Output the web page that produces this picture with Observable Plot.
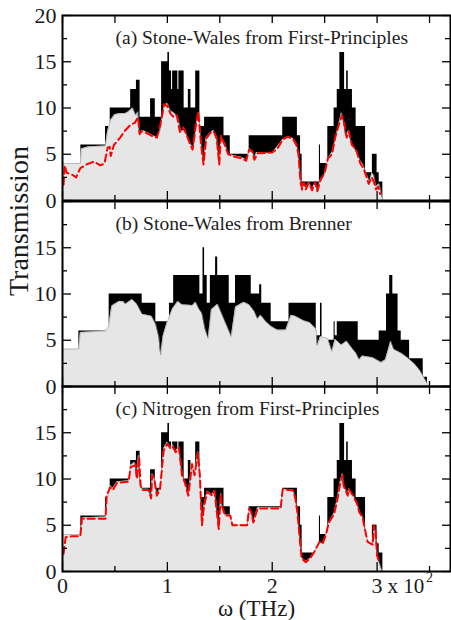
<!DOCTYPE html>
<html><head><meta charset="utf-8">
<script src="https://cdn.jsdelivr.net/npm/d3@7"></script>
<script src="https://cdn.jsdelivr.net/npm/@observablehq/plot@0.6"></script>
<style>body{margin:0;background:#fff} #chart svg{display:block}</style>
</head><body><div id="chart"></div>
<script>
// x in units of 10^2 THz
const xMajor = [0, 1, 2, 3];
const xMinor = [0.5, 1.5, 2.5, 3.5];
const yMajor = [0, 5, 10, 15, 20];
const yMinor = [2.5, 7.5, 12.5, 17.5];
const yLabelsTop = [0, 5, 10, 15, 20];
const yLabelsLower = [0, 5, 10, 15];
const titles = ["(a) Stone-Wales from First-Principles", "(b) Stone-Wales from Brenner", "(c) Nitrogen from First-Principles"];

// pristine transmission, first-principles (step function: [start, value])
const pristineFP = [[0,4],[0.175,6],[0.41,8],[0.455,10],[0.65,12],[0.705,13],[0.74,9],[0.84,11],[0.885,9],[0.945,15],[1.005,16],[1.02,14],[1.04,12],[1.05,14],[1.1,12],[1.11,14],[1.16,10],[1.2,12],[1.225,10],[1.27,14],[1.31,8],[1.355,9],[1.54,7],[1.6,5],[1.78,7],[2.1,9],[2.24,7],[2.27,5],[2.285,2],[2.45,6],[2.46,4],[2.53,8],[2.59,10],[2.62,12],[2.645,16],[2.69,12],[2.71,14],[2.725,12],[2.765,10],[2.8,8],[2.89,3],[2.955,5],[3.0,3],[3.02,2],[3.055,0],[3.7,0]];
// pristine transmission, Brenner
const pristineBR = [[0,4],[0.156,6],[0.445,10],[0.76,9],[0.89,7],[1.02,9],[1.06,12],[1.31,10],[1.34,15],[1.355,12],[1.38,9],[1.41,12],[1.46,14],[1.48,12],[1.59,9],[1.65,12],[1.8,10],[1.88,11],[1.9,9],[1.99,7],[2.16,9],[2.42,5.5],[2.46,9],[2.475,5],[2.59,7],[2.6,5.5],[2.62,7],[2.82,5],[3.02,6],[3.09,10],[3.12,12],[3.15,10],[3.2,6],[3.23,5],[3.31,3],[3.44,1],[3.48,0],[3.7,0]];

// defect transmission (grey)
const defectA = [[0,4],[0.17,4],[0.18,5.6],[0.25,5.8],[0.41,5.9],[0.43,7.5],[0.46,8.7],[0.5,9.3],[0.55,9.4],[0.6,9.4],[0.63,9.6],[0.67,10.0],[0.7,9.2],[0.72,9.6],[0.735,7.0],[0.76,7.6],[0.8,7.4],[0.85,7.1],[0.9,6.8],[0.93,7.5],[0.97,10.3],[1.0,10.5],[1.03,9.7],[1.07,9.4],[1.1,9.0],[1.13,7.5],[1.17,7.6],[1.2,6.5],[1.25,5.6],[1.28,8.5],[1.3,9.5],[1.32,6.5],[1.345,4.0],[1.37,6.8],[1.4,7.2],[1.44,7.6],[1.47,6.9],[1.495,4.0],[1.51,6.9],[1.55,6.2],[1.58,5.0],[1.65,4.8],[1.7,4.7],[1.74,4.5],[1.76,4.2],[1.78,5.6],[1.81,5.4],[1.83,4.6],[1.85,5.2],[1.95,5.1],[2.0,5.2],[2.05,5.8],[2.1,6.6],[2.15,6.9],[2.2,6.7],[2.23,6.2],[2.25,5.2],[2.27,2.5],[2.285,1.0],[2.3,2.0],[2.32,1.3],[2.35,2.0],[2.38,1.2],[2.41,2.0],[2.43,1.0],[2.46,2.3],[2.5,2.8],[2.53,4.5],[2.57,5.2],[2.6,6.5],[2.63,8.0],[2.66,9.5],[2.68,8.5],[2.7,7.0],[2.73,7.6],[2.75,6.3],[2.8,5.3],[2.84,4.3],[2.87,3.8],[2.9,2.8],[2.93,2.0],[2.95,3.0],[2.97,2.7],[2.99,1.5],[3.02,1.8],[3.05,0.3],[3.06,0],[3.7,0]];
const defectB = [[0,4.05],[0.155,4.05],[0.17,5.85],[0.41,6.0],[0.44,6.5],[0.47,8.7],[0.54,9.2],[0.58,9.2],[0.6,8.9],[0.665,9.4],[0.71,8.9],[0.76,7.8],[0.85,7.6],[0.89,6.7],[0.92,5.3],[0.936,3.4],[0.96,5.5],[1.0,7.0],[1.05,8.4],[1.1,9.2],[1.14,8.85],[1.24,8.75],[1.27,9.1],[1.3,8.4],[1.33,7.9],[1.36,6.2],[1.39,5.2],[1.42,8.3],[1.48,8.9],[1.52,7.8],[1.61,5.4],[1.65,8.6],[1.73,9.1],[1.78,8.85],[1.83,8.1],[1.86,7.3],[1.89,7.7],[1.94,7.0],[1.99,6.5],[2.05,6.1],[2.13,6.1],[2.18,7.7],[2.22,7.6],[2.3,7.1],[2.36,6.9],[2.42,6.2],[2.43,4.4],[2.46,5.4],[2.53,5.2],[2.57,3.8],[2.6,5.1],[2.66,4.5],[2.71,4.9],[2.77,4.0],[2.8,3.6],[2.83,2.9],[2.86,3.3],[2.96,3.1],[3.04,2.6],[3.08,2.9],[3.13,4.9],[3.16,4.0],[3.23,3.6],[3.29,3.1],[3.36,2.4],[3.41,1.7],[3.48,0.3],[3.49,0],[3.7,0]];
const defectC = [[0,4],[0.17,4],[0.19,5.8],[0.41,5.9],[0.43,8.0],[0.455,9.3],[0.48,9.0],[0.52,9.7],[0.63,9.8],[0.65,11.5],[0.69,11.8],[0.705,10.2],[0.725,12.6],[0.74,9.3],[0.76,8.9],[0.82,8.9],[0.845,8.0],[0.855,10.6],[0.875,10.2],[0.9,8.3],[0.93,9.0],[0.965,13.3],[1.0,14.0],[1.03,13.4],[1.05,13.7],[1.08,13.0],[1.11,13.5],[1.14,10.5],[1.17,9.6],[1.2,8.3],[1.235,11.8],[1.26,10.5],[1.29,13.0],[1.31,10.4],[1.33,5.0],[1.35,7.2],[1.38,8.7],[1.43,8.3],[1.45,8.8],[1.49,4.6],[1.51,8.5],[1.52,7.2],[1.55,6.1],[1.6,6.1],[1.62,5.0],[1.76,5.0],[1.78,6.9],[1.8,6.5],[1.82,5.3],[1.86,6.9],[2.08,6.9],[2.1,8.9],[2.2,8.8],[2.22,8.0],[2.24,6.5],[2.26,4.0],[2.28,1.5],[2.32,1.1],[2.36,1.4],[2.4,2.1],[2.45,3.2],[2.48,3.0],[2.51,3.9],[2.54,5.3],[2.59,6.3],[2.62,7.8],[2.65,9.8],[2.67,10.6],[2.68,9.4],[2.72,8.3],[2.73,9.0],[2.77,8.3],[2.81,7.4],[2.83,6.5],[2.86,6.0],[2.89,4.3],[2.91,3.3],[2.94,3.1],[2.96,3.0],[2.97,5.0],[2.985,4.4],[3.0,1.8],[3.02,1.0],[3.04,0.3],[3.05,0],[3.7,0]];

// red dashed curves
const redA = [[0.01,1.7],[0.02,3.8],[0.04,3.0],[0.09,2.8],[0.13,2.5],[0.17,3.5],[0.23,3.9],[0.3,4.2],[0.36,3.8],[0.4,4.0],[0.43,5.7],[0.45,5.8],[0.46,4.8],[0.49,6.0],[0.55,6.8],[0.6,7.6],[0.65,8.2],[0.69,8.4],[0.72,9.0],[0.735,7.2],[0.76,7.5],[0.8,7.3],[0.85,7.0],[0.9,6.8],[0.93,8.0],[0.97,10.4],[1.0,10.2],[1.03,9.4],[1.06,9.0],[1.09,9.2],[1.12,7.4],[1.15,7.9],[1.18,7.2],[1.21,6.3],[1.24,5.5],[1.27,8.0],[1.295,9.6],[1.32,6.2],[1.345,3.9],[1.37,6.7],[1.41,7.3],[1.44,7.5],[1.47,6.7],[1.495,3.9],[1.51,7.0],[1.54,6.2],[1.58,5.0],[1.65,4.7],[1.7,4.6],[1.75,4.3],[1.78,5.5],[1.81,5.3],[1.83,4.4],[1.86,5.1],[2.0,5.2],[2.05,5.6],[2.1,6.6],[2.15,6.9],[2.2,6.6],[2.23,6.0],[2.25,5.0],[2.27,2.0],[2.285,1.2],[2.3,2.0],[2.32,1.2],[2.35,1.9],[2.38,1.1],[2.41,2.0],[2.43,1.0],[2.46,2.2],[2.5,3.0],[2.53,4.5],[2.57,5.0],[2.6,6.8],[2.63,8.0],[2.665,9.2],[2.69,8.2],[2.71,6.8],[2.73,7.5],[2.76,6.0],[2.8,5.5],[2.84,4.0],[2.87,3.5],[2.9,2.5],[2.92,1.8],[2.95,2.5],[2.97,2.0],[2.99,1.2],[3.01,1.5],[3.03,0.7]];
const redC = [[0.01,1.9],[0.03,3.7],[0.09,3.8],[0.17,3.8],[0.185,5.7],[0.41,5.7],[0.42,8.2],[0.455,9.1],[0.48,8.8],[0.52,9.6],[0.63,9.7],[0.65,11.3],[0.7,11.5],[0.71,10.0],[0.73,12.4],[0.745,9.3],[0.76,8.8],[0.82,8.8],[0.845,7.9],[0.855,10.4],[0.875,10.0],[0.9,8.2],[0.93,8.9],[0.965,13.1],[1.0,13.8],[1.03,13.3],[1.05,13.5],[1.08,12.9],[1.11,13.4],[1.14,10.4],[1.17,9.5],[1.2,8.2],[1.235,11.6],[1.26,10.4],[1.29,12.8],[1.31,10.4],[1.33,5.0],[1.35,7.1],[1.38,8.6],[1.43,8.2],[1.45,8.7],[1.49,4.6],[1.51,8.4],[1.52,7.1],[1.55,6.05],[1.6,6.05],[1.62,5.0],[1.76,5.0],[1.78,6.8],[1.8,6.4],[1.82,5.3],[1.86,6.8],[2.08,6.8],[2.1,8.9],[2.2,8.75],[2.22,7.9],[2.24,6.4],[2.26,3.9],[2.28,1.4],[2.32,1.0],[2.36,1.4],[2.4,2.1],[2.45,3.2],[2.48,3.0],[2.51,3.9],[2.54,5.3],[2.59,6.2],[2.62,7.7],[2.65,9.65],[2.67,10.4],[2.68,9.3],[2.72,8.2],[2.73,8.9],[2.77,8.2],[2.81,7.3],[2.83,6.4],[2.86,5.9],[2.89,4.25],[2.91,3.2],[2.94,3.0],[2.96,2.9],[2.97,5.0],[2.985,4.4],[3.0,1.7],[3.02,1.0]];

const W = 451, ML = 62, MR = 1, PH = 185;
const PW = W - ML - MR;
const FONT = '"Liberation Serif", "Times New Roman", serif';

function panel({pristine, defect, red, title, yLabels, marginTop, marginBottom, bottomAxis, yTitle}) {
  const px = d => d[0], py = d => d[1];
  const marks = [
    Plot.areaY(pristine, {x: px, y: py, curve: "step-after", fill: "black"}),
    Plot.areaY(defect, {x: px, y: py, fill: "#e6e6e6"}),
    Plot.lineY(defect, {x: px, y: py, stroke: "#9a9a9a", strokeWidth: 0.6}),
  ];
  if (red) marks.push(Plot.lineY(red, {x: px, y: py, stroke: "#ff0000", strokeWidth: 2, strokeDasharray: "7,4"}));
  marks.push(
    Plot.tickY(yMajor, {stroke: "black", strokeWidth: 1.3, insetRight: PW - 9}),
    Plot.tickY(yMinor, {stroke: "black", strokeWidth: 1.3, insetRight: PW - 5}),
    Plot.tickY(yMajor, {stroke: "black", strokeWidth: 1.3, insetLeft: PW - 8}),
    Plot.tickY(yMinor, {stroke: "black", strokeWidth: 1.3, insetLeft: PW - 5}),
    Plot.tickX(xMajor, {stroke: "black", strokeWidth: 1.3, insetTop: PH - 9}),
    Plot.tickX(xMinor, {stroke: "black", strokeWidth: 1.3, insetTop: PH - 5}),
    Plot.tickX(xMajor, {stroke: "black", strokeWidth: 1.3, insetBottom: PH - 8}),
    Plot.tickX(xMinor, {stroke: "black", strokeWidth: 1.3, insetBottom: PH - 8}),
    Plot.frame({stroke: "black", strokeWidth: 2}),
    Plot.axisY(yLabels, {tickSize: 0, tickPadding: 6, fontSize: 22, fill: "#1a1a1a", label: null}),
    Plot.text([title], {frameAnchor: "top-left", textAnchor: "start", lineAnchor: "bottom", dx: 53, dy: 28, fontSize: 19.5, fill: "#222"})
  );
  if (bottomAxis) {
    marks.push(
      Plot.axisX(xMajor, {tickSize: 0, tickPadding: 6, fontSize: 22, fill: "#1a1a1a", label: null, tickFormat: d => String(d)}),
      Plot.text([xMajor[xMajor.length - 1]], {x: d => d, frameAnchor: "bottom", text: () => "x 10", textAnchor: "start", lineAnchor: "bottom", dx: 10.5, dy: 21, fontSize: 21, fill: "#1a1a1a"}),
      Plot.text([xMajor[xMajor.length - 1]], {x: d => d, frameAnchor: "bottom", text: () => "2", textAnchor: "start", lineAnchor: "bottom", dx: 49, dy: 10, fontSize: 14, fill: "#1a1a1a"}),
      Plot.text(["ω (THz)"], {frameAnchor: "bottom", lineAnchor: "bottom", dy: 44, fontSize: 23, fill: "#1a1a1a"})
    );
  } else {
    marks.push(Plot.axisX({ticks: [], label: null}));
  }
  if (yTitle) {
    marks.push(Plot.text([yTitle], {frameAnchor: "left", rotate: -90, lineAnchor: "bottom", dx: -35, dy: 2, fontSize: 28, fill: "#1a1a1a"}));
  }
  return Plot.plot({
    width: W,
    height: PH + marginTop + marginBottom,
    marginLeft: ML, marginRight: MR, marginTop, marginBottom,
    x: {domain: [0, 3.7], axis: null},
    y: {domain: [0, 20], axis: null},
    style: {fontFamily: FONT, background: "white", overflow: "visible"},
    marks
  });
}

const chart = document.getElementById("chart");
chart.append(
  panel({pristine: pristineFP, defect: defectA, red: redA, title: titles[0], yLabels: yLabelsTop, marginTop: 15, marginBottom: 0}),
  panel({pristine: pristineBR, defect: defectB, red: null, title: titles[1], yLabels: yLabelsLower, marginTop: 1, marginBottom: 0, yTitle: "Transmission"}),
  panel({pristine: pristineFP, defect: defectC, red: redC, title: titles[2], yLabels: yLabelsLower, marginTop: 0, marginBottom: 49, bottomAxis: true})
);
</script></body></html>
